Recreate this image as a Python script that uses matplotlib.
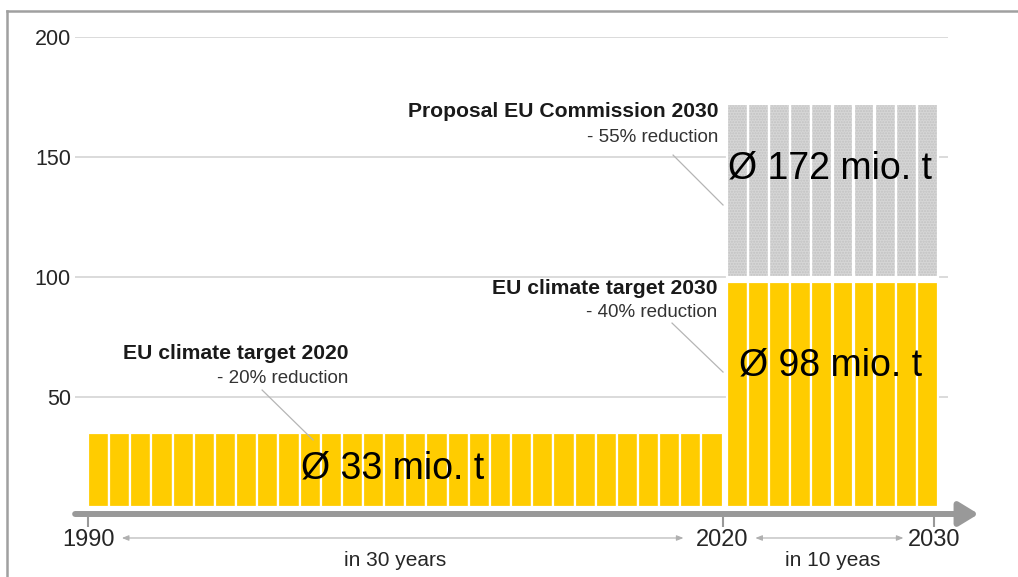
import numpy as np
import matplotlib
matplotlib.use("Agg")
from matplotlib import pyplot as plt
from matplotlib.lines import Line2D

plt.rcParams['font.family'] = ['Liberation Sans', 'DejaVu Sans']

# data
years_2020 = np.arange(1990, 2020)
years_2030 = np.arange(2020, 2030)
target_2020 = [35] * 30          # EU climate target 2020, top of each yearly bar
target_2030 = [98] * 10          # EU climate target 2030
proposal_2030 = [172] * 10       # Proposal EU Commission 2030
avg_labels = ["Ø 33 mio. t", "Ø 98 mio. t", "Ø 172 mio. t"]
x_ticks = [1990, 2020, 2030]
y_ticks = [50, 100, 150, 200]

YELLOW = '#FFCC00'
GREY = '#999999'
BASE = 4

fig = plt.figure(figsize=(10.18, 5.77), dpi=100)
ax = fig.add_axes([0.0737, 0.10399, 0.8576, 0.83189])

#yellow bars
ax.bar(years_2020, np.array(target_2020) - BASE, bottom=BASE, width=1, align='edge',
       color=YELLOW, edgecolor='white', linewidth=1.6, zorder=2)
ax.bar(years_2030 + 0.2, np.array(target_2030) - BASE, bottom=BASE, width=0.98, align='edge',
       color=YELLOW, edgecolor='white', linewidth=1.6, zorder=2)

#grey dotted bars on top
ax.bar(years_2030 + 0.2, np.array(proposal_2030) - 100, bottom=100, width=0.98, align='edge',
       color='#d6d6d6', edgecolor='#c2c2c2', hatch='......', linewidth=0, zorder=2)
ax.bar(years_2030 + 0.2, np.array(proposal_2030) - 100, bottom=100, width=0.98, align='edge',
       fill=False, edgecolor='white', linewidth=1.6, zorder=3)

ax.set_xlim(1989.385, 2030.66)
ax.set_ylim(0, 200)

for s in ax.spines.values():
    s.set_visible(False)
ax.set_yticks(y_ticks)
ax.yaxis.grid(True, color='#d4d4d4', linewidth=1.2)
ax.set_axisbelow(True)
ax.tick_params(axis='y', length=0, pad=3, labelsize=15.5, labelcolor='#262626')
ax.set_xticks(x_ticks)
ax.tick_params(axis='x', length=7.5, width=1.5, color=GREY, pad=1, labelsize=17,
               labelcolor='#262626')

#axis arrow
ax.annotate('', xy=(2032.1, 1.25), xytext=(1989.39, 1.25), annotation_clip=False,
            arrowprops=dict(arrowstyle='-|>,head_length=0.9,head_width=0.55', lw=4.3,
                            color=GREY, mutation_scale=13, shrinkA=0, shrinkB=0))

#span arrows
for x0, x1 in [(1991.6, 2018.15), (2021.55, 2028.55)]:
    ax.annotate('', xy=(x1, -8.75), xytext=(x0, -8.75), annotation_clip=False,
                arrowprops=dict(arrowstyle='<|-|>,head_length=0.5,head_width=0.2', lw=0.8,
                                color='#b0b0b0', mutation_scale=8, shrinkA=0, shrinkB=0))
ax.text(2004.5, -18, 'in 30 years', ha='center', va='center', fontsize=15,
        color='#262626', clip_on=False)
ax.text(2025.2, -18.3, 'in 10 yeas', ha='center', va='center', fontsize=15,
        color='#262626', clip_on=False)

#average labels
ax.text(2004.4, 20.4, avg_labels[0], ha='center', va='center', fontsize=27, zorder=5)
ax.text(2025.1, 63.3, avg_labels[1], ha='center', va='center', fontsize=27, zorder=5)
ax.text(2025.1, 145.4, avg_labels[2], ha='center', va='center', fontsize=27, zorder=5)

#annotations with leader lines
notes = [
    ('EU climate target 2020', '- 20% reduction', 2002.3, 68.3, 57.9,
     [(1998.23, 52.9), (2000.64, 32.1)]),
    ('EU climate target 2030', '- 40% reduction', 2019.75, 95.4, 85.0,
     [(2017.61, 80.8), (2020.02, 60.4)]),
    ('Proposal EU Commission 2030', '- 55% reduction', 2019.8, 168.8, 158.3,
     [(2017.66, 150.8), (2020.02, 130.0)]),
]
for title, sub, xr, yt, ys, pts in notes:
    ax.text(xr, yt, title, ha='right', va='center', fontsize=15.2, fontweight='bold',
            color='#1a1a1a', zorder=5)
    ax.text(xr, ys, sub, ha='right', va='center', fontsize=13.5, color='#333333', zorder=5)
    ax.plot([pts[0][0], pts[1][0]], [pts[0][1], pts[1][1]], color='#b5b5b5', lw=0.9, zorder=4)

#frame around the picture
fig.add_artist(Line2D([7 / 1018, 7 / 1018], [0, 566 / 577], color='#a0a0a0', lw=1.8))
fig.add_artist(Line2D([7 / 1018, 1], [566 / 577, 566 / 577], color='#a0a0a0', lw=1.8))

fig.savefig('out.png', dpi=100)
